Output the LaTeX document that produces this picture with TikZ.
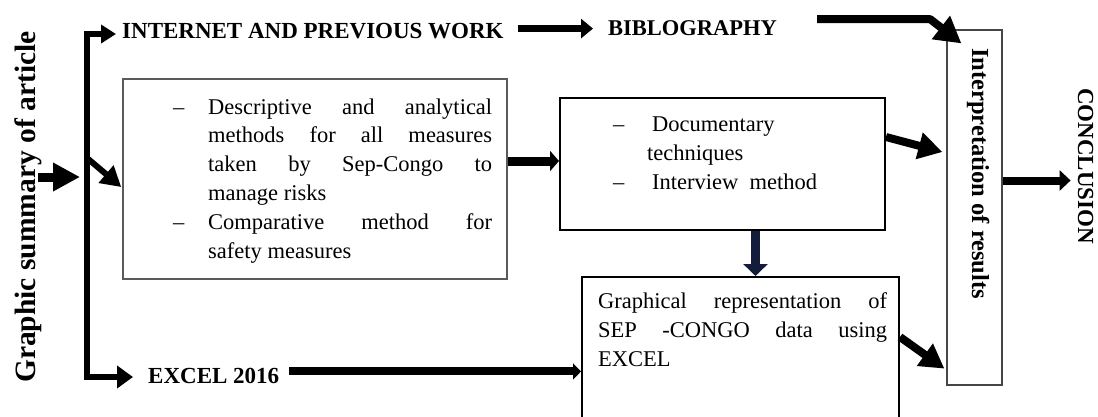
\documentclass[tikz,border=0pt]{standalone}
\usepackage{fontspec}
\setmainfont{Liberation Serif}
\usetikzlibrary{arrows.meta}
\definecolor{boxgray}{RGB}{90,90,90}
\definecolor{boxgrayb}{RGB}{70,70,70}
\definecolor{darknavy}{RGB}{20,28,60}
\tikzset{
  ar/.style n args={3}{line width=#1, -{Triangle[length=#2,width=#3]}},
  lbl/.style={anchor=base west, inner sep=0pt, font=\fontsize{23}{28}\selectfont\bfseries},
  txt/.style={anchor=base west, inner sep=0pt, font=\fontsize{22.5}{28}\selectfont},
  boxnode/.style={draw, line width=2pt, inner sep=0pt},
}
\begin{document}
\begin{tikzpicture}[x=1pt,y=-1pt]
\clip (0,0) rectangle (1098,416);
% boxes
\node[boxnode, draw=boxgray, line width=1.5pt, minimum width=384pt, minimum height=200pt] (box1) at (315,179) {};
\node[boxnode, minimum width=325pt, minimum height=132pt] (box2) at (722.5,164) {};
\node[boxnode, minimum width=317pt, minimum height=163pt] (box3) at (740.5,358.5) {};
\node[boxnode, draw=boxgrayb, line width=1.2pt, minimum width=55pt, minimum height=355pt] (box4) at (974.5,207.5) {};
% labels
\node[lbl, font=\fontsize{29.5}{30}\selectfont\bfseries, rotate=90] (summary) at (35,383) {Graphic summary of article};
\node[lbl] (internet) at (122,38) {INTERNET AND PREVIOUS WORK};
\node[lbl, font=\fontsize{22.5}{28}\selectfont\bfseries] (biblio) at (608,35) {BIBLOGRAPHY};
\node[lbl] (excel) at (148,383) {EXCEL 2016};
\node[lbl, font=\fontsize{24.5}{26}\selectfont\bfseries, rotate=-90] (interp) at (972,48) {Interpretation of results};
\node[lbl, rotate=-90] (conclusion) at (1078,88) {CONCLUSION};
% box1 text
\node[txt] (d1a) at (173,114) {–};
\node[txt] (t1a) at (208,114) {\makebox[284pt][s]{Descriptive and analytical}};
\node[txt] (t1b) at (208,142.8) {\makebox[284pt][s]{methods for all measures}};
\node[txt] (t1c) at (208,171.6) {\makebox[284pt][s]{taken by Sep-Congo to}};
\node[txt] (t1d) at (208,200.4) {manage risks};
\node[txt] (d1b) at (173,229.2) {–};
\node[txt] (t1e) at (208,229.2) {\makebox[284pt][s]{Comparative method for}};
\node[txt] (t1f) at (208,258) {safety measures};
% box2 text
\node[txt] (d2a) at (613,131) {–};
\node[txt] (t2a) at (652,131) {Documentary};
\node[txt] (t2b) at (647,160) {techniques};
\node[txt] (d2b) at (613,189) {–};
\node[txt] (t2c) at (652,189) {Interview\ \ method};
% box3 text
\node[txt] (t3a) at (598,308) {\makebox[289pt][s]{Graphical representation of}};
\node[txt] (t3b) at (598,337) {\makebox[289pt][s]{SEP -CONGO data using}};
\node[txt] (t3c) at (598,366) {EXCEL};
% trunk
\coordinate (ttop) at (87,34);
\coordinate (tbot) at (87,377);
\coordinate (tin) at (87,177);
\coordinate (tdiag) at (87,158);
\draw[ar={6pt}{15pt}{18pt}] (tbot) -- (ttop) -- ([xshift=-6pt]ttop -| internet.west);
\draw[ar={6pt}{16pt}{22pt}] (ttop) -- (tbot) -- ([xshift=-15pt]tbot -| excel.west);
\draw[ar={9pt}{27pt}{27pt}] ([xshift=-49pt]tin) -- ([xshift=-7pt]tin);
\draw[ar={6pt}{20pt}{22pt}] (tdiag) -- ([xshift=-1pt,yshift=-8pt]box1.west);
% top row
\draw[ar={7pt}{12pt}{19pt}] ([xshift=14pt,yshift=2pt]internet.east) -- ([xshift=-15pt,yshift=2pt]internet.east -| biblio.west);
\draw[ar={8pt}{26pt}{28pt}, line join=round] ([xshift=40pt,yshift=8.5pt]biblio.east) -- ++(113,0) -- ([xshift=15pt,yshift=-14pt]box4.north west);
% middle
\draw[ar={9pt}{9pt}{20pt}] ([yshift=18pt]box1.east) -- ([yshift=18pt]box1.east -| box2.west);
\draw[ar={9pt}{12pt}{24pt}, darknavy] ([xshift=33pt]box2.south) -- ([xshift=33pt]box2.south |- box3.north);
\draw[ar={8pt}{8pt}{16pt}] ([xshift=10pt,yshift=4pt]excel.east) -- ([yshift=4pt]excel.east -| box3.west);
\draw[ar={8pt}{24pt}{26pt}] ([yshift=27pt]box2.east) -- ([xshift=-4pt,yshift=55.5pt]box4.west);
\draw[ar={8pt}{24pt}{26pt}] ([yshift=21.5pt]box3.east) -- ([xshift=-2pt,yshift=17pt]box4.south west);
\draw[ar={8pt}{11pt}{20pt}] ([yshift=27pt]box4.east) -- ++(68,0);
\end{tikzpicture}
\end{document}
